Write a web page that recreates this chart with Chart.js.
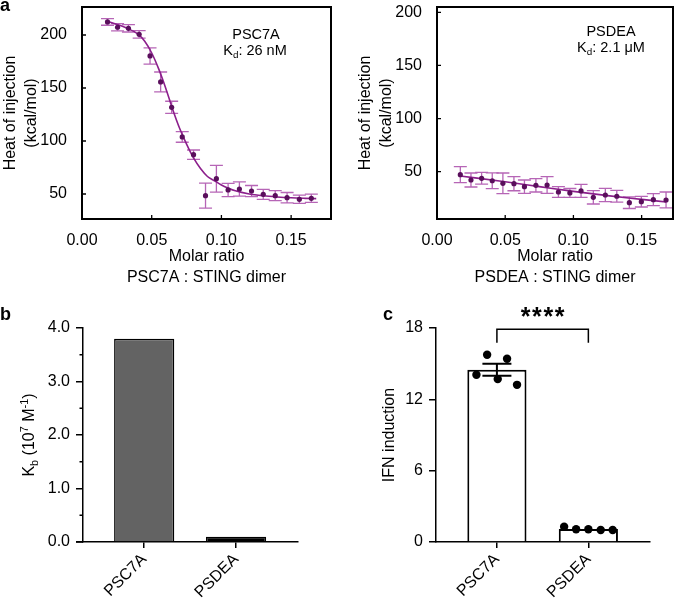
<!DOCTYPE html>
<html>
<head>
<meta charset="utf-8">
<script src="https://cdn.jsdelivr.net/npm/chart.js@4.4.1/dist/chart.umd.min.js"></script>
<style>
  body { margin: 0; background: #fff; }
  #wrap { position: relative; width: 685px; height: 601px; font-family: 'Liberation Sans', Arial, sans-serif; }
  .pane { position: absolute; }
  .lbl { position: absolute; font-weight: bold; font-size: 18px; line-height: 18px; }
</style>
</head>
<body>
<div id="wrap">
  <canvas id="itcA" class="pane" width="340" height="300" style="left:0;top:0"></canvas>
  <canvas id="itcB" class="pane" width="345" height="300" style="left:340px;top:0"></canvas>
  <canvas id="kb" class="pane" width="340" height="301" style="left:0;top:300px"></canvas>
  <canvas id="ifn" class="pane" width="345" height="301" style="left:340px;top:300px"></canvas>
  <div class="lbl" style="left:0;top:-4px">a</div>
  <div class="lbl" style="left:0;top:305px">b</div>
  <div class="lbl" style="left:383px;top:305px">c</div>
</div>
<script>
// ---- panel a: ITC, PSC7A ----
var psc7aRatio = [0.0183, 0.0255, 0.0333, 0.041, 0.0488, 0.0564, 0.0643, 0.0719, 0.08, 0.0886, 0.0964, 0.1048, 0.1129, 0.1216, 0.13, 0.1386, 0.1471, 0.1559, 0.1645];
var psc7aHeat = [212.3, 207.3, 206.3, 200.6, 180.2, 155.7, 131.8, 103.8, 87.1, 48.4, 64.4, 53.8, 54.7, 52.8, 49.7, 48.4, 46.5, 45, 45.9];
var psc7aErr = [3.1, 3.5, 3.5, 3.6, 7.7, 9.4, 5.7, 5, 4.4, 11.8, 12.6, 6.3, 6.8, 5.2, 4.7, 4.7, 4.9, 3.9, 3.9];
// fitted curve
var psc7aFitX = [0.018, 0.025, 0.032, 0.04, 0.045, 0.05, 0.055, 0.06, 0.065, 0.07, 0.075, 0.08, 0.085, 0.09, 0.095, 0.1, 0.105, 0.11, 0.12, 0.13, 0.14, 0.15, 0.16, 0.168];
var psc7aFitY = [213, 210, 206.5, 201, 194, 183, 168, 150, 130, 112, 97, 84, 74, 66.5, 62.5, 58.5, 55.5, 53, 50, 48.3, 47.2, 46.4, 45.9, 45.6];

// ---- panel a: ITC, PSDEA ----
var psdeaRatio = [0.0171, 0.0249, 0.0327, 0.0405, 0.0483, 0.0564, 0.0641, 0.0725, 0.0807, 0.089, 0.0974, 0.1056, 0.1146, 0.1234, 0.1318, 0.141, 0.1498, 0.1586, 0.1679];
var psdeaHeat = [47.2, 42.2, 43.8, 41.5, 39.1, 38.7, 35.9, 37.2, 37.5, 30.9, 30, 31.9, 25.9, 28.1, 26.9, 20.9, 21.8, 23.7, 23.4];
var psdeaErr = [7.5, 6.6, 5.5, 7.4, 9.7, 6.6, 6.3, 6.3, 7.8, 5, 4.2, 6.1, 6.3, 6.3, 5.5, 5.5, 5, 5.6, 7.5];
var psdeaFitX = [0.017, 0.05, 0.075, 0.1, 0.125, 0.15, 0.168];
var psdeaFitY = [46, 40.5, 36, 31.5, 27.5, 24, 21.5];

// ---- panel b: binding constants ----
var compounds = ['PSC7A', 'PSDEA'];
var kbValues = [3.8, 0.1];

// ---- panel c: IFN induction ----
var ifnMean = [14.49, 1.09];
var ifnSem = [0.5, 0];
var ifnPsc7a = [15.75, 15.41, 14.07, 13.7, 13.22];
var ifnPsdea = [1.29, 1.07, 1.07, 1.01, 1.01];
var jitterPsc7a = [-0.107, 0.111, -0.224, 0.009, 0.22];
var jitterPsdea = [-0.265, -0.134, 0, 0.135, 0.266];

var FONT = "'Liberation Sans', Arial, sans-serif";
var PURPLE_DOT = '#5a0f5c';
var PURPLE_LINE = '#8c1f8c';
var PURPLE_ERR = '#b665b6';

function pts(xs, ys) {
    var out = [];
    for (var i = 0; i < xs.length; i++) out.push({ x: xs[i], y: ys[i] });
    return out;
}

// text with sub/superscripts, centred on x. parts: [text, 0 normal | 1 sub | 2 sup]
function richText(ctx, parts, x, y, size) {
    var w = 0;
    parts.forEach(function (p) {
        ctx.font = (p[1] ? size * 0.68 : size) + 'px ' + FONT;
        w += ctx.measureText(p[0]).width;
    });
    var cx = x - w / 2;
    ctx.textAlign = 'left';
    ctx.textBaseline = 'alphabetic';
    ctx.fillStyle = '#000';
    parts.forEach(function (p) {
        ctx.font = (p[1] ? size * 0.68 : size) + 'px ' + FONT;
        var dy = p[1] === 1 ? size * 0.22 : (p[1] === 2 ? -size * 0.4 : 0);
        ctx.fillText(p[0], cx, y + dy);
        cx += ctx.measureText(p[0]).width;
    });
}

// vertical error bars for datasets carrying an "errors" array
var errorBars = {
    id: 'errorBars',
    beforeDatasetsDraw: function (chart) {
        var ctx = chart.ctx, xs = chart.scales.x, ys = chart.scales.y;
        chart.data.datasets.forEach(function (ds) {
            if (!ds.errors) return;
            ctx.save();
            ctx.strokeStyle = ds.errorColor;
            ctx.lineWidth = 1.3;
            ds.data.forEach(function (p, j) {
                var px = xs.getPixelForValue(p.x);
                var t = ys.getPixelForValue(p.y + ds.errors[j]);
                var b = ys.getPixelForValue(p.y - ds.errors[j]);
                ctx.beginPath();
                ctx.moveTo(px, t); ctx.lineTo(px, b);
                ctx.moveTo(px - 6.5, t); ctx.lineTo(px + 6.5, t);
                ctx.moveTo(px - 6.5, b); ctx.lineTo(px + 6.5, b);
                ctx.stroke();
            });
            ctx.restore();
        });
    }
};

// full frame + inward ticks for the ITC plots
var frameBox = {
    id: 'frameBox',
    afterDraw: function (chart, args, opts) {
        var ctx = chart.ctx, a = chart.chartArea;
        ctx.save();
        ctx.strokeStyle = '#000';
        ctx.lineWidth = 1.3;
        ctx.beginPath();
        chart.scales.x.ticks.forEach(function (t) {
            var px = chart.scales.x.getPixelForValue(t.value);
            ctx.moveTo(px, a.bottom); ctx.lineTo(px, a.bottom - 4);
        });
        chart.scales.y.ticks.forEach(function (t) {
            var py = chart.scales.y.getPixelForValue(t.value);
            ctx.moveTo(a.left, py); ctx.lineTo(a.left + 4, py);
        });
        ctx.stroke();
        ctx.lineWidth = 2;
        ctx.strokeRect(a.left, a.top, a.right - a.left, a.bottom - a.top);
        ctx.restore();
        (opts.notes || []).forEach(function (n) {
            richText(ctx, n.parts, n.x, n.y, 14.5);
        });
    }
};

function noPad(s) {
    s.paddingTop = 0; s.paddingBottom = 0; s.paddingLeft = 0; s.paddingRight = 0;
}

function itcChart(id, ratio, heat, err, fitX, fitY, xMax, yMin, yMax, pad, yWidth, xLabel, notes) {
    var ctx = document.getElementById(id).getContext('2d');
    return new Chart(ctx, {
        type: 'scatter',
        data: {
            datasets: [
                {
                    data: pts(ratio, heat),
                    errors: err,
                    errorColor: PURPLE_ERR,
                    backgroundColor: PURPLE_DOT,
                    borderColor: PURPLE_DOT,
                    pointRadius: 2.6,
                    borderWidth: 0
                },
                {
                    type: 'line',
                    data: pts(fitX, fitY),
                    borderColor: PURPLE_LINE,
                    borderWidth: 1.6,
                    pointRadius: 0,
                    tension: 0.4,
                    cubicInterpolationMode: 'monotone',
                    fill: false
                }
            ]
        },
        options: {
            responsive: false,
            animation: false,
            events: [],
            layout: { padding: pad },
            plugins: {
                legend: { display: false },
                tooltip: { enabled: false },
                frameBox: { notes: notes }
            },
            scales: {
                x: {
                    type: 'linear', min: 0, max: xMax,
                    afterBuildTicks: function (s) { s.ticks = [0, 0.05, 0.1, 0.15].map(function (v) { return { value: v }; }); },
                    afterFit: function (s) { s.height = 300 - pad.top - pad.bottom - 212; noPad(s); },
                    grid: { display: false },
                    border: { display: false },
                    ticks: { color: '#000', padding: 4, font: { family: FONT, size: 16 }, callback: function (v) { return v.toFixed(2); } },
                    title: { display: true, text: xLabel, color: '#000', font: { family: FONT, size: 16, lineHeight: 1.3 }, padding: 0 }
                },
                y: {
                    min: yMin, max: yMax,
                    afterBuildTicks: function (s) { s.ticks = [50, 100, 150, 200].map(function (v) { return { value: v }; }); },
                    afterFit: function (s) { s.width = yWidth; noPad(s); },
                    grid: { display: false },
                    border: { display: false },
                    ticks: { color: '#000', padding: 7, font: { family: FONT, size: 16 } },
                    title: { display: true, text: ['Heat of injection', '(kcal/mol)'], color: '#000', font: { family: FONT, size: 16, lineHeight: 1.3 }, padding: { top: yWidth - 82, bottom: 0 } }
                }
            }
        },
        plugins: [errorBars, frameBox]
    });
}

itcChart('itcA', psc7aRatio, psc7aHeat, psc7aErr, psc7aFitX, psc7aFitY, 0.1786, 26.4, 226.4,
    { top: 7, right: 9, bottom: 12, left: 0 }, 82, ['Molar ratio', 'PSC7A : STING dimer'],
    [{ parts: [['PSC7A', 0]], x: 256, y: 39 }, { parts: [['K', 0], ['d', 1], [': 26 nM', 0]], x: 255, y: 55 }]);

itcChart('itcB', psdeaRatio, psdeaHeat, psdeaErr, psdeaFitX, psdeaFitY, 0.173, 5.5, 205,
    { top: 7, right: 12, bottom: 12, left: 0 }, 97, ['Molar ratio', 'PSDEA : STING dimer'],
    [{ parts: [['PSDEA', 0]], x: 271, y: 36 }, { parts: [['K', 0], ['d', 1], [': 2.1 \u03bcM', 0]], x: 271, y: 52 }]);

// ---- bar panels ----
var barExtras = {
    id: 'barExtras',
    afterDraw: function (chart, args, opts) {
        var ctx = chart.ctx, a = chart.chartArea, xs = chart.scales.x, ys = chart.scales.y;
        ctx.save();
        ctx.strokeStyle = '#000';
        ctx.lineWidth = 1.5;
        ctx.beginPath();
        (opts.minor || []).forEach(function (v) {
            var py = ys.getPixelForValue(v);
            ctx.moveTo(a.left, py); ctx.lineTo(a.left - 3.5, py);
        });
        if (opts.extendAxis) {
            ctx.moveTo(a.left - opts.extendAxis, a.bottom); ctx.lineTo(a.left, a.bottom);
        }
        ctx.stroke();
        if (opts.bracket) {
            var b = opts.bracket;
            var x0 = xs.getPixelForValue(b.from), x1 = xs.getPixelForValue(b.to);
            var yt = ys.getPixelForValue(b.top), yb = ys.getPixelForValue(b.leg);
            ctx.beginPath();
            ctx.moveTo(x0, yb); ctx.lineTo(x0, yt); ctx.lineTo(x1, yt); ctx.lineTo(x1, yb);
            ctx.stroke();
            ctx.fillStyle = '#000';
            ctx.font = 'bold 25px ' + FONT;
            ctx.textAlign = 'center';
            ctx.textBaseline = 'alphabetic';
            var cx = (x0 + x1) / 2;
            for (var k = 0; k < 4; k++) ctx.fillText('*', cx + (k - 1.5) * 11.4, yt - 4);
        }
        if (opts.title) richText2(ctx, opts.title, opts.titleX, (a.top + a.bottom) / 2, 16);
        ctx.restore();
    },
    afterDatasetDraw: function (chart, args, opts) {
        if (!opts.sem || args.index !== 1) return;
        var ctx = chart.ctx, xs = chart.scales.x, ys = chart.scales.y;
        ctx.save();
        ctx.strokeStyle = '#000';
        ctx.lineWidth = 2;
        ctx.beginPath();
        opts.sem.forEach(function (e, i) {
            if (!e) return;
            var px = xs.getPixelForValue(i);
            var t = ys.getPixelForValue(opts.mean[i] + e), b = ys.getPixelForValue(opts.mean[i] - e);
            ctx.moveTo(px, t); ctx.lineTo(px, b);
            ctx.moveTo(px - 14.5, t); ctx.lineTo(px + 14.5, t);
            ctx.moveTo(px - 14.5, b); ctx.lineTo(px + 14.5, b);
        });
        ctx.stroke();
        ctx.restore();
    }
};

// rotated rich text (y-axis title)
function richText2(ctx, parts, x, y, size) {
    ctx.save();
    ctx.translate(x, y);
    ctx.rotate(-Math.PI / 2);
    richText(ctx, parts, 0, 5, size);
    ctx.restore();
}

function barAxes(yMin, yMax, step, yWidth, xHeight, yFmt, yTitle) {
    return {
        x: {
            type: 'linear', min: -0.666, max: 1.674, offset: false,
            afterBuildTicks: function (s) { s.ticks = [{ value: 0 }, { value: 1 }]; },
            afterFit: function (s) { s.height = xHeight; noPad(s); },
            grid: { drawOnChartArea: false, offset: false, color: '#000', lineWidth: 1.5, tickLength: 6 },
            border: { color: '#000', width: 1.5 },
            ticks: { color: '#000', padding: 2, minRotation: 45, maxRotation: 45, font: { family: FONT, size: 16 }, callback: function (v) { return compounds[v]; } }
        },
        y: {
            min: yMin, max: yMax,
            afterFit: function (s) { s.width = yWidth; noPad(s); },
            grid: { drawOnChartArea: false, color: '#000', lineWidth: 1.5, tickLength: 7 },
            border: { color: '#000', width: 1.5 },
            ticks: { color: '#000', padding: 6, stepSize: step, font: { family: FONT, size: 16 }, callback: yFmt },
            title: yTitle
        }
    };
}

new Chart(document.getElementById('kb').getContext('2d'), {
    type: 'bar',
    data: {
        datasets: [{
            data: pts([0, 1], kbValues),
            backgroundColor: ['#636363', '#000'],
            borderColor: '#000',
            borderWidth: 1.5,
            borderSkipped: 'bottom',
            barPercentage: 0.655,
            categoryPercentage: 1
        }]
    },
    options: {
        responsive: false,
        animation: false,
        events: [],
        layout: { padding: { top: 28, right: 42, bottom: 0, left: 0 } },
        plugins: {
            legend: { display: false },
            tooltip: { enabled: false },
            barExtras: {
                minor: [0.5, 1.5, 2.5, 3.5],
                extendAxis: 7,
                title: [['K', 0], ['b', 1], [' (10', 0], ['7', 2], [' M', 0], ['-1', 2], [')', 0]],
                titleX: 29
            }
        },
        scales: barAxes(0, 4, 1, 83, 59, function (v) { return v.toFixed(1); }, { display: false })
    },
    plugins: [barExtras]
});

new Chart(document.getElementById('ifn').getContext('2d'), {
    type: 'bar',
    data: {
        datasets: [
            {
                type: 'scatter',
                data: pts(jitterPsc7a, ifnPsc7a).concat(pts(jitterPsdea.map(function (j) { return 1 + j; }), ifnPsdea)),
                backgroundColor: '#000',
                borderWidth: 0,
                pointRadius: 4.2
            },
            {
                data: pts([0, 1], ifnMean),
                backgroundColor: '#fff',
                borderColor: '#000',
                borderWidth: 2,
                borderSkipped: 'bottom',
                barPercentage: 0.647,
                categoryPercentage: 1
            }
        ]
    },
    options: {
        responsive: false,
        animation: false,
        events: [],
        layout: { padding: { top: 28, right: 35, bottom: 0, left: 0 } },
        plugins: {
            legend: { display: false },
            tooltip: { enabled: false },
            barExtras: {
                sem: ifnSem,
                mean: ifnMean,
                bracket: { from: 0, to: 1, top: 17.9, leg: 16.75 }
            }
        },
        scales: barAxes(0, 18, 6, 96, 59, function (v) { return v; },
            { display: true, text: 'IFN induction', color: '#000', font: { family: FONT, size: 16 }, padding: { top: 40, bottom: 0 } })
    },
    plugins: [barExtras]
});
</script>
</body>
</html>
